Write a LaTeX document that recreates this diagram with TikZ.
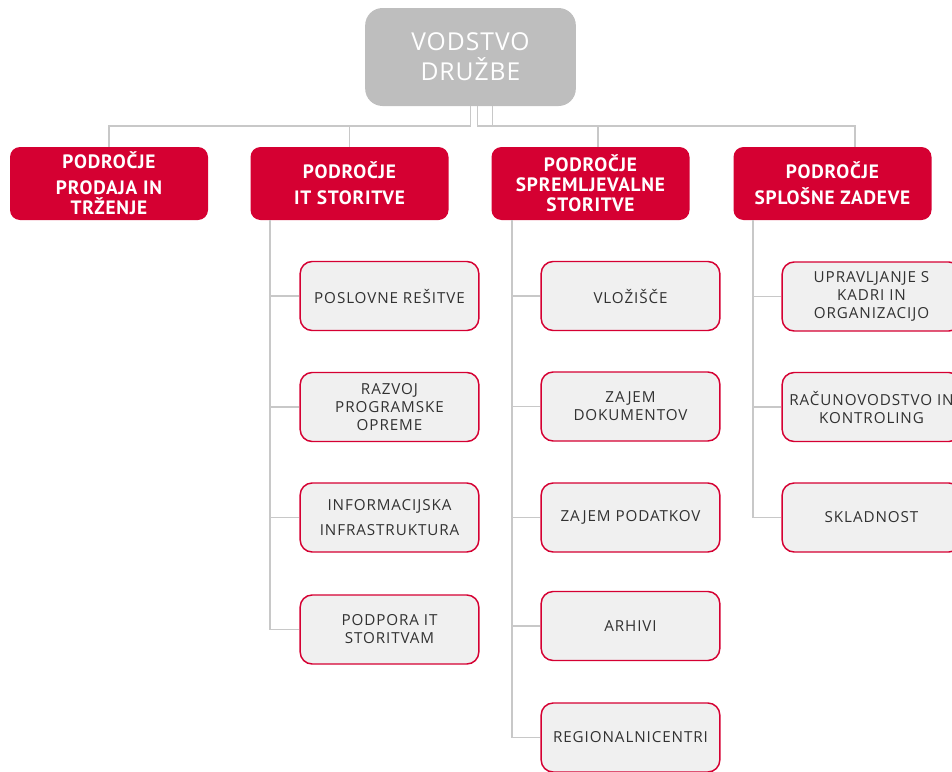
\documentclass[tikz,border=0pt]{standalone}
\usepackage{fontspec}
\setmainfont{Open Sans}
\newfontfamily\headfont[LetterSpace=4]{PT Sans}
\newfontfamily\boxfont[LetterSpace=6]{Open Sans}
\newfontfamily\topfont[LetterSpace=4]{Open Sans}
\usetikzlibrary{positioning}
\definecolor{firmred}{RGB}{213,0,50}
\definecolor{topgray}{RGB}{190,190,190}
\definecolor{boxgray}{RGB}{240,240,240}
\definecolor{linegray}{RGB}{200,200,200}
\definecolor{textgray}{RGB}{50,50,50}
\begin{document}
\begin{tikzpicture}[x=0.75pt, y=-0.75pt,
    top/.style={rounded corners=13pt, fill=topgray, text=white, minimum width=158pt, minimum height=73.5pt, align=center, font=\topfont\fontsize{18.5}{22.5}\selectfont},
    head/.style={rounded corners=7.5pt, fill=firmred, text=white, minimum width=148.5pt, minimum height=54.75pt, align=center, font=\headfont\bfseries\fontsize{14.5}{13.5}\selectfont},
    unit/.style={draw=firmred, line width=1.1pt, rounded corners=9pt, fill=boxgray, text=textgray, minimum width=134pt, minimum height=51.75pt, align=center, font=\boxfont\fontsize{11.4}{13.5}\selectfont},
    conn/.style={draw=linegray, line width=1.2pt}]
            \clip (0,0) rectangle (952,771);
            \node[top] (vod) at (470.5,57) {VODSTVO\\DRUŽBE};
            % podrocja
            \node[head] (p1) at (109,183.5) {PODROČJE\\[6pt]PRODAJA IN\\[1.5pt]TRŽENJE};
            \node[head] (p2) at (349.5,183.5) {PODROČJE\\[6pt]IT STORITVE};
            \node[head] (p3) at (590.5,183.5) {PODROČJE\\[1.5pt]SPREMLJEVALNE\\[1.5pt]STORITVE};
            \node[head] (p4) at (832.5,183.5) {PODROČJE\\[6pt]SPLOŠNE ZADEVE};
            % IT storitve
            \node[unit] (c21) at (389.5,296) {POSLOVNE REŠITVE};
            \node[unit] (c22) at (389.5,407) {RAZVOJ\\PROGRAMSKE\\OPREME};
            \node[unit] (c23) at (389.5,517.5) {INFORMACIJSKA\\[5pt]INFRASTRUKTURA};
            \node[unit] (c24) at (389.5,629.5) {PODPORA IT\\STORITVAM};
            % spremljevalne storitve
            \node[unit] (c31) at (630.5,296) {VLOŽIŠČE};
            \node[unit] (c32) at (630.5,406.5) {ZAJEM\\DOKUMENTOV};
            \node[unit] (c33) at (630.5,517.5) {ZAJEM PODATKOV};
            \node[unit] (c34) at (630.5,626) {ARHIVI};
            \node[unit] (c35) at (630.5,737.5) {REGIONALNICENTRI};
            % splosne zadeve
            \node[unit] (c41) at (871.5,296.5) {UPRAVLJANJE S\\KADRI IN\\ORGANIZACIJO};
            \node[unit] (c42) at (871.5,407) {RAČUNOVODSTVO IN\\KONTROLING};
            \node[unit] (c43) at (871.5,517.5) {SKLADNOST};

            \coordinate (t2) at ([xshift=15pt]p2.south west);
            \coordinate (t3) at ([xshift=15.5pt]p3.south west);
            \coordinate (t4) at ([xshift=15pt]p4.south west);

            \path[conn]
            (p1.north) -- ++(0,-21) -| (vod.south)
            (p2.north) -- ++(0,-21) -| (vod.south)
            ([xshift=5.5pt]p3.north) -- ++(0,-21) -| ([xshift=5.25pt]vod.south)
            ([xshift=17pt]p4.north) -- ++(0,-21) -| ([xshift=16.5pt]vod.south);
            \foreach \k in {c21,c22,c23,c24}
                \draw[conn] (t2) |- (\k.west);
            \foreach \k in {c31,c32,c33,c34,c35}
                \draw[conn] (t3) |- (\k.west);
            \foreach \k in {c41,c42,c43}
                \draw[conn] (t4) |- (\k.west);
        \end{tikzpicture}
\end{document}
